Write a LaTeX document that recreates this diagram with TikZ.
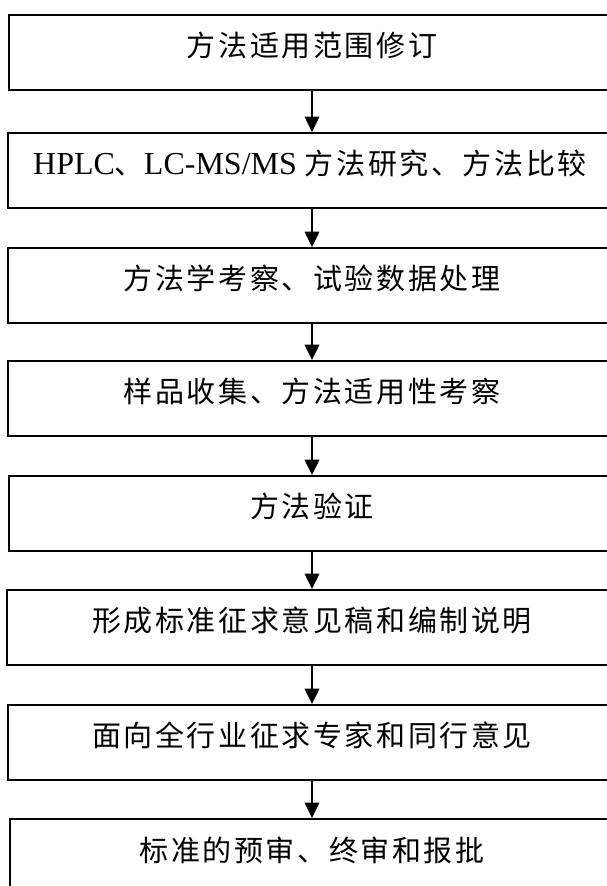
\documentclass[tikz,border=0pt]{standalone}
\usepackage{fontspec}
\setmainfont{Liberation Serif}
\newfontfamily\cjk[LetterSpace=9]{Noto Sans CJK SC}
\newfontfamily\latfont{Liberation Serif}
\newcommand\LatinTxt[1]{{\latfont\fontsize{24pt}{26pt}\selectfont #1}}
\usetikzlibrary{arrows.meta,calc}
\begin{document}
\begin{tikzpicture}[x=0.75pt,y=-0.75pt,
  box/.style={draw=black, line width=1.2pt, rectangle, inner sep=0pt,
              minimum height=56.25pt, anchor=north west},
  txt/.style={inner sep=0pt, anchor=center, font=\cjk\fontsize{21.75pt}{26pt}\selectfont},
  arr/.style={line width=1pt, -{Triangle[length=11.5pt,width=11pt]}}]
\useasboundingbox (0,0) rectangle (607,886);
\clip (0,0) rectangle (607,886);
\coordinate (ax) at (312,0);
% boxes
\node[box, minimum width=459pt]    (b1) at (8,14)  {};
\node[box, minimum width=459.75pt] (b2) at (7,132) {};
\node[box, minimum width=459.75pt] (b3) at (7,247) {};
\node[box, minimum width=459.75pt] (b4) at (7,360) {};
\node[box, minimum width=459pt]    (b5) at (8,475) {};
\node[box, minimum width=460.5pt]  (b6) at (6,589) {};
\node[box, minimum width=459.75pt] (b7) at (7,704) {};
\node[box, minimum width=458.25pt] (b8) at (9,818) {};
% texts
\node[txt] (t1) at ($(b1.north -| ax)+(0,31)$) {方法适用范围修订};
\node[txt] (t2) at ($(b2.north -| ax)+(-2,31)$) {\LatinTxt{HPLC}、\LatinTxt{LC-MS/MS }方法研究、方法比较};
\node[txt] (t3) at ($(b3.north -| ax)+(0,31)$) {方法学考察、试验数据处理};
\node[txt] (t4) at ($(b4.north -| ax)+(0,31)$) {样品收集、方法适用性考察};
\node[txt] (t5) at ($(b5.north -| ax)+(0,31)$) {方法验证};
\node[txt] (t6) at ($(b6.north -| ax)+(0,31)$) {形成标准征求意见稿和编制说明};
\node[txt] (t7) at ($(b7.north -| ax)+(0,31)$) {面向全行业征求专家和同行意见};
\node[txt] (t8) at ($(b8.north -| ax)+(0,32)$) {标准的预审、终审和报批};
% arrows
\draw[arr] (b1.south -| ax) -- (b2.north -| ax);
\draw[arr] (b2.south -| ax) -- (b3.north -| ax);
\draw[arr] (b3.south -| ax) -- (b4.north -| ax);
\draw[arr] (b4.south -| ax) -- (b5.north -| ax);
\draw[arr] (b5.south -| ax) -- (b6.north -| ax);
\draw[arr] (b6.south -| ax) -- (b7.north -| ax);
\draw[arr] (b7.south -| ax) -- (b8.north -| ax);
\end{tikzpicture}
\end{document}
